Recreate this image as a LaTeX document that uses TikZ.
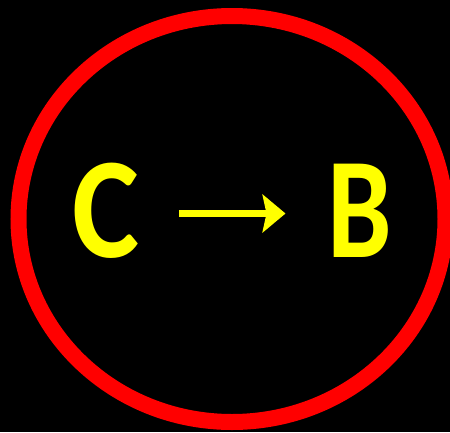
\documentclass[tikz,border=0pt]{standalone}
\usepackage{fontspec}
\setmainfont{Carlito}
\usetikzlibrary{arrows.meta, positioning}
\definecolor{ringred}{RGB}{255, 0, 0}
\definecolor{letteryellow}{RGB}{255, 255, 0}
\newcommand{\narrowletter}[2]{\scalebox{#1}[1]{#2}}

\begin{document}
\begin{tikzpicture}[x=1pt, y=-1pt, >=Stealth,
    letter/.style={text=letteryellow, inner sep=0pt, font=\fontsize{144}{144}\selectfont\bfseries},
    arrowline/.style={->, draw=letteryellow, line width=7.7pt,
        arrows={-Stealth[length=23pt, width=38pt, inset=4pt]}}]
    % Background and frame
    \fill[black] (0,0) rectangle (450,432);
    \useasboundingbox (0,0) rectangle (450,432);
    \draw[ringred, line width=16pt] (232,219) ellipse [x radius=213.5, y radius=203];
    % Nodes
    \node[letter] (c) at (106.5,211) {\narrowletter{0.88}{C}};
    \node[letter] (b) at (360,211) {\narrowletter{0.8}{B}};
    % Arrow
    \draw[arrowline, shorten <=39pt, shorten >=42pt] ([yshift=-2.5pt]c.east) -- ([yshift=-2.5pt]b.west);
\end{tikzpicture}
\end{document}
